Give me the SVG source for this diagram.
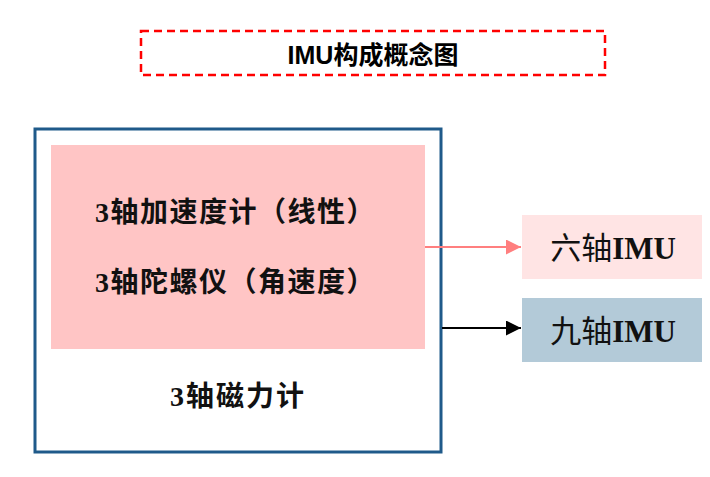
<svg xmlns="http://www.w3.org/2000/svg" width="710" height="477" viewBox="0 0 710 477">
<defs>
<style>
.t{font-family:"Liberation Sans","Noto Sans CJK SC",sans-serif;font-weight:bold;fill:#000}
.s{font-family:"Liberation Serif","Noto Sans CJK SC",serif;fill:#111}
</style>
<marker id="ap" markerWidth="15" markerHeight="15" refX="15" refY="7.5" orient="auto" markerUnits="userSpaceOnUse" viewBox="0 0 15 15"><path d="M0,0 L15,7.5 L0,15 Z" fill="#FF7F7F"/></marker>
<marker id="ab" markerWidth="15" markerHeight="15" refX="15" refY="7.5" orient="auto" markerUnits="userSpaceOnUse" viewBox="0 0 15 15"><path d="M0,0 L15,7.5 L0,15 Z" fill="#000"/></marker>
</defs>
<rect width="710" height="477" fill="#fff"/>
<g id="title">
<rect x="141" y="31" width="464" height="44" fill="none" stroke="#FF0000" stroke-width="2.5" stroke-dasharray="8,5"/>
<text class="t" x="373" y="64" font-size="25" text-anchor="middle">IMU构成概念图</text>
</g>
<g id="imu">
<rect x="35" y="129" width="406" height="323" fill="#fff" stroke="#1F5A8A" stroke-width="3"/>
</g>
<g id="acc-gyro">
<rect x="51" y="145" width="374" height="204" fill="#FFC5C5"/>
<text class="s" x="95" y="222" font-size="28" font-weight="bold" letter-spacing="1.5">3轴加速度计（线性）</text>
<text class="s" x="95" y="292" font-size="28" font-weight="bold" letter-spacing="1.5">3轴陀螺仪（角速度）</text>
</g>
<g id="mag">
<text class="s" x="238" y="406" font-size="28" font-weight="bold" letter-spacing="2" text-anchor="middle">3轴磁力计</text>
</g>
<g id="six">
<rect x="522" y="215" width="180" height="64" fill="#FFE4E4"/>
<text class="s" x="613" y="259" font-size="31" text-anchor="middle">六轴<tspan font-weight="bold">IMU</tspan></text>
</g>
<g id="nine">
<rect x="522" y="298" width="180" height="64" fill="#B3CAD8"/>
<text class="s" x="613" y="342" font-size="31" text-anchor="middle">九轴<tspan font-weight="bold">IMU</tspan></text>
</g>
<g id="connectors">
<line x1="425" y1="247" x2="521" y2="247" stroke="#FF7F7F" stroke-width="2" marker-end="url(#ap)"/>
<line x1="442" y1="328" x2="521" y2="328" stroke="#000" stroke-width="2" marker-end="url(#ab)"/>
</g>
</svg>
